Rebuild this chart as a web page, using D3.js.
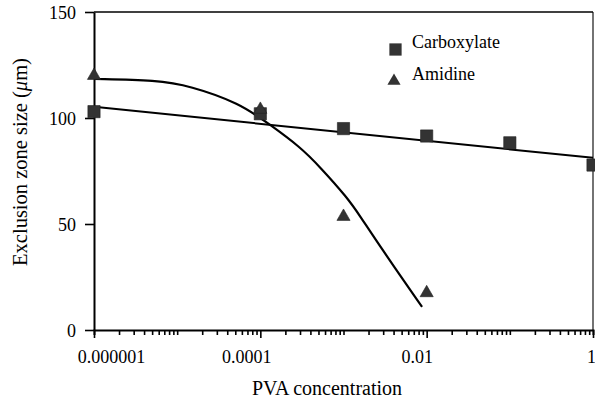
<!DOCTYPE html>
<html><head><meta charset="utf-8">
<script src="https://cdn.jsdelivr.net/npm/d3@7"></script>
<style>
html,body{margin:0;padding:0;background:#fff;}
svg text{font-family:"Liberation Serif","Times New Roman",Tinos,"DejaVu Serif",serif !important;fill:#000;}
</style></head>
<body>
<svg id="chart" width="595" height="400"></svg>
<script>
// ---- data ----
const concentrations = [1e-6, 1e-4, 1e-3, 1e-2, 1e-1, 1];
const carboxylate = [103, 102, 95, 91.5, 88.3, 77.8];
const amidineConc = [1e-6, 1e-4, 1e-3, 1e-2];
const amidine = [120, 104, 53.5, 17.5];
// carboxylate trend line (straight in log-x)
const carbFitX = [1e-6, 1];
const carbFitY = [105.3, 81.2];
// amidine fitted curve
const amiFitX = [1e-6, 5.75e-6, 1.41e-5, 5.6e-5, 1.32e-4, 3.0e-4, 5.2e-4, 1.12e-3, 1.58e-3, 2.75e-3, 8.8e-3];
const amiFitY = [118.4, 117.8, 115.2, 107.1, 96.7, 86.4, 77.0, 62.3, 53.8, 39.4, 10.9];
const xTickLabels = ["0.000001", "0.0001", "0.01", "1"];
const xMajor = [1e-6, 1e-4, 1e-2, 1];
const yTicks = [0, 50, 100, 150];
const seriesNames = ["Carboxylate", "Amidine"];

// ---- drawing ----
const FONT = '"Liberation Serif","Times New Roman",Tinos,"DejaVu Serif",serif';
const svg = d3.select("#chart");
const L = 94, R = 593, T = 12, B = 330;
const x = d3.scaleLog().domain([1e-6, 1]).range([L, R]);
const y = d3.scaleLinear().domain([0, 150]).range([B, T]);
const col = "#333333";

// frame top & right
svg.append("line").attr("x1", L).attr("x2", R).attr("y1", T).attr("y2", T)
  .attr("stroke", "#000").attr("stroke-width", 1.3);
svg.append("line").attr("x1", R).attr("x2", R).attr("y1", T).attr("y2", B)
  .attr("stroke", "#000").attr("stroke-width", 1.1);

// x axis ticks
const allTicks = [];
for (let e = -6; e < 0; e++) for (let m = 1; m < 10; m++) allTicks.push(m * Math.pow(10, e));
allTicks.push(1);
const majorIndex = v => xMajor.findIndex(t => Math.abs(Math.log10(v) - Math.log10(t)) < 1e-9);
const xAxis = d3.axisBottom(x).tickValues(allTicks).tickSizeOuter(0).tickSize(5)
  .tickFormat(v => { const i = majorIndex(v); return i >= 0 ? xTickLabels[i] : ""; });
const gx = svg.append("g").attr("transform", `translate(0,${B})`).call(xAxis).attr("font-family", FONT);
gx.select(".domain").attr("stroke-width", 2).attr("stroke", "#000");
gx.selectAll(".tick line").attr("stroke", "#000").attr("stroke-width", 1.6)
  .attr("y2", d => majorIndex(d) >= 0 ? 8 : 5);
const labelShift = { "0.000001": 17, "0.0001": -14, "0.01": -10, "1": -2 };
gx.selectAll(".tick text").attr("font-size", 18)
  .attr("fill", "#000").attr("y", 0).attr("dy", 0)
  .attr("transform", function() { const t = d3.select(this).text(); return `translate(${labelShift[t] || 0},33)`; });

// y axis
const yAxis = d3.axisLeft(y).tickValues(yTicks).tickSize(9).tickSizeOuter(0).tickPadding(9).tickFormat(d3.format("d"));
const gy = svg.append("g").attr("transform", `translate(${L},0)`).call(yAxis).attr("font-family", FONT);
gy.select(".domain").attr("stroke-width", 2).attr("stroke", "#000");
gy.selectAll(".tick line").attr("stroke", "#000").attr("stroke-width", 1.6);
gy.selectAll(".tick text").attr("font-size", 18).attr("fill", "#000").attr("dy", "0.34em");

// fit lines
const line = d3.line().x(d => x(d[0])).y(d => y(d[1]));
svg.append("path").datum(carbFitX.map((v, i) => [v, carbFitY[i]]))
  .attr("d", line).attr("fill", "none").attr("stroke", "#000").attr("stroke-width", 2);
svg.append("path").datum(amiFitX.map((v, i) => [v, amiFitY[i]]))
  .attr("d", d3.line().x(d => x(d[0])).y(d => y(d[1])).curve(d3.curveBasis))
  .attr("fill", "none").attr("stroke", "#000").attr("stroke-width", 2.2);

// markers
const sq = d3.symbol().type(d3.symbolSquare).size(150);
const tri = d3.symbol().type(d3.symbolTriangle).size(75);
svg.append("g").selectAll("path").data(concentrations.map((v, i) => [v, carboxylate[i]]))
  .join("path").attr("d", sq).attr("transform", d => `translate(${x(d[0])},${y(d[1])})`)
  .attr("fill", col).attr("stroke", "#222").attr("stroke-width", 0.6);
svg.append("g").selectAll("path").data(amidineConc.map((v, i) => [v, amidine[i]]))
  .join("path").attr("d", tri).attr("transform", d => `translate(${x(d[0])},${y(d[1])})`)
  .attr("fill", col).attr("stroke", "#222").attr("stroke-width", 0.6);

// legend
const leg = svg.append("g").attr("font-family", FONT);
leg.append("path").attr("d", sq).attr("transform", "translate(395.5,49.5)").attr("fill", col);
leg.append("path").attr("d", tri).attr("transform", "translate(394,81)").attr("fill", col);
leg.append("text").attr("x", 412).attr("y", 47.5).attr("font-size", 18).text(seriesNames[0]);
leg.append("text").attr("x", 412).attr("y", 80).attr("font-size", 18).text(seriesNames[1]);

// axis titles
svg.append("text").attr("x", 327).attr("y", 395).attr("text-anchor", "middle")
  .attr("font-family", FONT).attr("font-size", 20).text("PVA concentration");
const yt = svg.append("text").attr("transform", "translate(27,162) rotate(-90)")
  .attr("text-anchor", "middle").attr("font-family", FONT).attr("font-size", 20.5);
yt.append("tspan").text("Exclusion zone size (");
yt.append("tspan").attr("font-style", "italic").text("μ");
yt.append("tspan").text("m)");
</script>
</body></html>
